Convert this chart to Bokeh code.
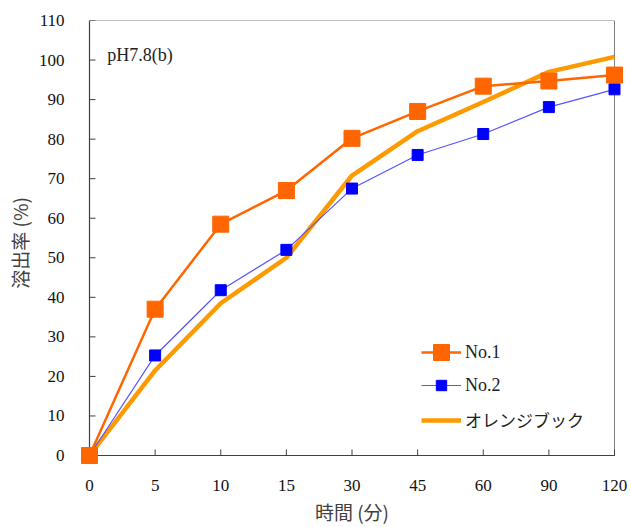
from bokeh.plotting import figure
from bokeh.models import Range1d, FixedTicker, Legend, LegendItem, Label
from bokeh.embed import file_html
from bokeh.resources import INLINE

# Sampling times (min) and dissolution rates (%)
times = ["0", "5", "10", "15", "30", "45", "60", "90", "120"]
no1 = [0, 37.0, 58.5, 67.0, 80.2, 87.0, 93.4, 94.7, 96.2]
no2 = [0, 25.3, 41.8, 52.0, 67.5, 76.0, 81.3, 88.1, 92.6]
orange_book = [0, 21.5, 38.5, 50.0, 70.8, 82.0, 89.4, 97.0, 100.8]
y_ticks = list(range(0, 111, 10))

SERIF = "Liberation Serif"
CJK = "Noto Sans CJK JP"

# sampling points are spaced evenly regardless of their minute values
xs = list(range(len(times)))
x_max = len(times) - 1
y_max = 110

# axes box size in pixels, plus some slack so edge markers are not cut off
box_w, box_h, slack = 525, 435, 10
px_x = box_w / x_max
px_y = box_h / y_max
x_pad = slack / px_x
y_pad = slack / px_y

p = figure(width=631, height=527, output_backend="svg", toolbar_location=None,
           x_range=Range1d(-x_pad, x_max + x_pad), y_range=Range1d(-y_pad, y_max),
           min_border_left=89 - slack, min_border_right=17 - slack,
           min_border_top=20, min_border_bottom=72 - slack)
p.background_fill_color = "white"
p.border_fill_color = "white"
p.outline_line_color = None
p.xgrid.visible = False
p.ygrid.visible = False

for ax in (p.xaxis[0], p.yaxis[0]):
    ax.axis_line_color = None
    ax.major_tick_line_color = None
    ax.minor_tick_line_color = None
    ax.major_label_text_font = SERIF
    ax.major_label_text_font_size = "17px"
    ax.major_label_text_color = "#111111"
    ax.axis_label_text_font = CJK
    ax.axis_label_text_font_size = "19px"
    ax.axis_label_text_font_style = "normal"
    ax.axis_label_text_color = "#404040"

p.xaxis.ticker = FixedTicker(ticks=xs)
p.xaxis.major_label_overrides = {i: t for i, t in enumerate(times)}
p.xaxis.major_label_standoff = 18 - slack
p.xaxis.axis_label = "時間 (分)"
p.xaxis.axis_label_standoff = 4

p.yaxis.ticker = FixedTicker(ticks=y_ticks)
p.yaxis.major_label_standoff = 19 - slack
p.yaxis.axis_label = "溶出率 (%)"
p.yaxis.axis_label_standoff = 3

# axes box: dark left/bottom, grey top/right, inward ticks
p.segment(x0=[0, x_max], y0=[y_max, 0], x1=[x_max, x_max], y1=[y_max, y_max],
          line_color="#7f7f7f", line_width=1)
p.segment(x0=[0, 0], y0=[0, 0], x1=[x_max, 0], y1=[0, y_max],
          line_color="#404040", line_width=1.2)
tick_len = 6
p.segment(x0=[0] * len(y_ticks), y0=y_ticks, x1=[tick_len / px_x] * len(y_ticks),
          y1=y_ticks, line_color="#404040", line_width=1)
p.segment(x0=xs, y0=[0] * len(xs), x1=xs, y1=[tick_len / px_y] * len(xs),
          line_color="#404040", line_width=1)

r_orange = p.line(xs, orange_book, line_color="#FF9900", line_width=4.5)
r_no2_line = p.line(xs, no2, line_color="#5555FF", line_width=1.2)
r_no2_pts = p.scatter(xs, no2, marker="square", size=11, fill_color="#0000FF",
                      line_color="#0000FF")
r_no1_line = p.line(xs, no1, line_color="#FF6600", line_width=2.5)
r_no1_pts = p.scatter(xs, no1, marker="square", size=16, fill_color="#FF6600",
                      line_color="#FF6600")


def legend_entry(label, renderers, font, size, glyph_h, loc):
    lg = Legend(items=[LegendItem(label=label, renderers=renderers)], location=loc)
    lg.label_text_font = font
    lg.label_text_font_size = size
    lg.label_text_color = "#222222"
    lg.glyph_width = 40
    lg.glyph_height = glyph_h
    lg.label_height = 20
    lg.label_standoff = 4
    lg.padding = 0
    lg.margin = 0
    lg.border_line_color = None
    lg.background_fill_alpha = 0
    p.add_layout(lg)


legend_entry("No.1", [r_no1_line, r_no1_pts], SERIF, "18px", 40, (342, 93))
legend_entry("No.2", [r_no2_line, r_no2_pts], SERIF, "18px", 26, (342, 67))
legend_entry("オレンジブック", [r_orange], CJK, "17px", 24, (342, 33))

p.add_layout(Label(x=0.27, y=101.3, text="pH7.8(b)", text_font=SERIF,
                   text_font_size="18px", text_color="#222222",
                   text_baseline="middle", text_align="left"))

open("out.html", "w").write(file_html(p, INLINE))
